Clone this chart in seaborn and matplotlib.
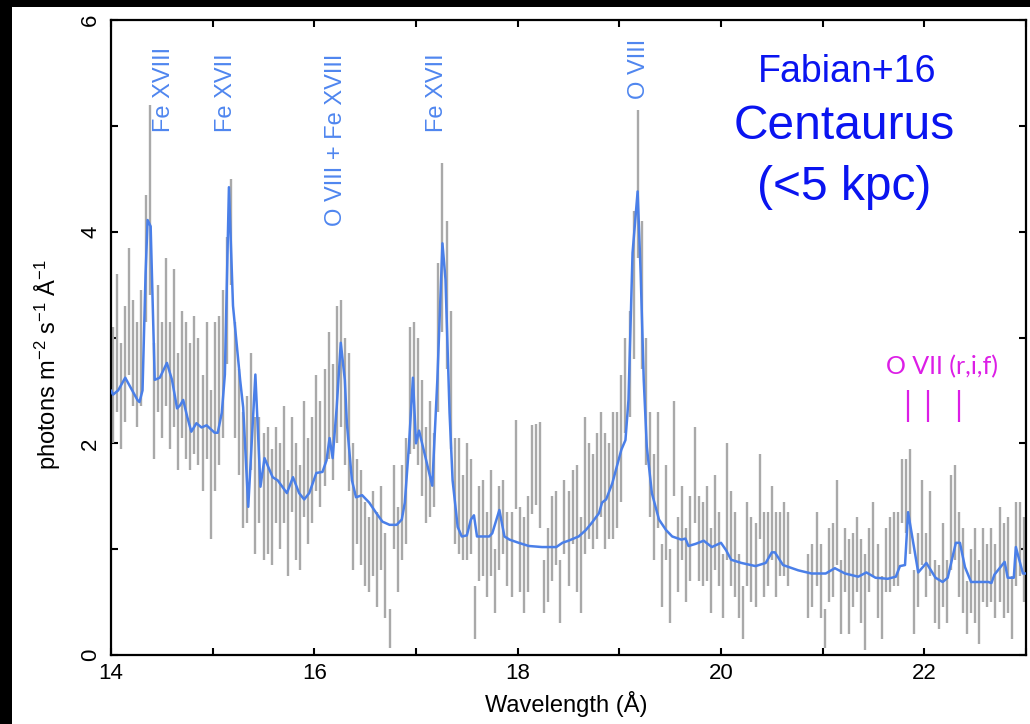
import numpy as np
import pandas as pd
import matplotlib
matplotlib.use("Agg")
import matplotlib.pyplot as plt
from matplotlib.patches import Rectangle
from matplotlib.ticker import FixedLocator, FuncFormatter
import seaborn as sns

# ---- RGS spectrum: binned fluxes with 1-sigma errors -----------------------
wavelength = np.linspace(14.02, 22.98, 225)

flux = [
    2.55, 2.95, 2.45, 2.75, 3.25, 2.85, 2.65, 2.9, 3.75, 4.3,
    2.4, 2.9, 2.6, 3.05, 2.55, 2.9, 2.3, 2.65, 2.5, 2.35,
    2.55, 2.4, 2.1, 2.5, 1.8, 2.35, 2.5, 2.75, 3.35, 4.0,
    2.6, 2.2, 1.75, 1.85, 2.3, 1.6, 1.75, 1.5, 1.55, 1.4,
    1.7, 1.5, 1.8, 1.25, 1.8, 1.45, 1.3, 1.85, 1.55, 1.75,
    2.1, 1.9, 2.15, 2.45, 2.2, 2.65, 2.75, 2.4, 2.2, 1.4,
    1.45, 1.3, 1.05, 0.95, 1.15, 0.9, 1.2, 0.75, 0.25, 1.4,
    1.0, 1.35, 1.55, 2.5, 2.55, 2.4, 2.05, 1.7, 1.85, 1.75,
    3.0, 3.85, 3.4, 2.6, 1.55, 1.5, 1.3, 1.45, 1.4, 0.4,
    1.15, 1.2, 0.95, 1.25, 0.7, 1.2, 1.3, 1.0, 0.95, 1.8,
    1.0, 0.85, 1.05, 1.75, 1.8, 1.7, 0.65, 0.85, 1.1, 1.2,
    0.6, 1.3, 1.1, 1.4, 1.2, 0.85, 1.6, 1.55, 1.45, 1.6,
    1.8, 1.55, 1.55, 1.7, 1.75, 2.05, 2.55, 2.75, 3.5, 4.45,
    3.4, 2.4, 1.8, 1.4, 1.75, 0.75, 1.35, 0.65, 1.95, 0.95,
    1.25, 0.85, 1.1, 1.7, 1.1, 1.05, 1.15, 0.8, 1.25, 1.0,
    0.65, 1.45, 1.1, 0.95, 0.65, 0.4, 1.05, 0.9, 0.85, 1.5,
    0.95, 1.0, 1.25, 0.95, 1.05, 1.1, 1.0, np.nan, np.nan, np.nan,
    np.nan, 0.65, 0.75, 1.0, 0.7, 0.25, 0.85, 0.9, 1.25, 0.55,
    0.9, 0.65, 0.8, 0.95, 0.7, 0.5, 0.9, 1.1, 0.7, 0.45,
    0.9, 0.95, 1.0, 1.0, 1.55, 1.5, 1.45, 0.5, 0.8, 1.25,
    0.85, 1.15, 0.6, 0.55, 0.85, 0.6, 1.25, 1.35, 0.95, 0.8,
    0.45, 0.7, 0.75, 0.5, 0.85, 0.75, 0.85, 0.7, 0.95, 0.8,
    0.85, 0.45, 1.05, 1.1, 0.9,
]

flux_err = [
    0.55, 0.65, 0.5, 0.55, 0.6, 0.5, 0.5, 0.55, 0.6, 0.9,
    0.55, 0.6, 0.55, 0.7, 0.6, 0.75, 0.55, 0.6, 0.65, 0.6,
    0.65, 0.6, 0.55, 0.65, 0.7, 0.8, 0.7, 0.7, 0.6, 0.5,
    0.55, 0.5, 0.55, 0.6, 0.55, 0.65, 0.5, 0.6, 0.6, 0.55,
    0.45, 0.5, 0.55, 0.5, 0.45, 0.55, 0.5, 0.55, 0.5, 0.5,
    0.55, 0.5, 0.55, 0.6, 0.55, 0.65, 0.6, 0.6, 0.65, 0.6,
    0.4, 0.45, 0.4, 0.35, 0.4, 0.45, 0.4, 0.4, 0.18, 0.4,
    0.4, 0.45, 0.5, 0.6, 0.6, 0.6, 0.55, 0.45, 0.55, 0.35,
    0.7, 0.8, 0.7, 0.65, 0.5, 0.55, 0.4, 0.55, 0.45, 0.25,
    0.45, 0.45, 0.4, 0.5, 0.3, 0.4, 0.35, 0.35, 0.4, 0.42,
    0.4, 0.45, 0.45, 0.42, 0.38, 0.5, 0.25, 0.35, 0.4, 0.35,
    0.3, 0.35, 0.45, 0.35, 0.6, 0.45, 0.65, 0.45, 0.45, 0.5,
    0.5, 0.55, 0.45, 0.6, 0.55, 0.6, 0.45, 0.5, 0.7, 0.7,
    0.7, 0.6, 0.5, 0.5, 0.55, 0.3, 0.45, 0.35, 0.45, 0.35,
    0.35, 0.35, 0.4, 0.45, 0.4, 0.4, 0.45, 0.4, 0.45, 0.35,
    0.3, 0.55, 0.45, 0.4, 0.3, 0.25, 0.4, 0.4, 0.4, 0.4,
    0.4, 0.35, 0.35, 0.4, 0.3, 0.35, 0.35, np.nan, np.nan, np.nan,
    np.nan, 0.3, 0.3, 0.35, 0.35, 0.18, 0.35, 0.35, 0.4, 0.35,
    0.3, 0.45, 0.35, 0.35, 0.4, 0.45, 0.3, 0.35, 0.35, 0.3,
    0.3, 0.35, 0.35, 0.35, 0.3, 0.35, 0.5, 0.3, 0.35, 0.4,
    0.3, 0.4, 0.3, 0.3, 0.4, 0.3, 0.45, 0.45, 0.4, 0.4,
    0.25, 0.3, 0.45, 0.4, 0.35, 0.3, 0.35, 0.35, 0.45, 0.45,
    0.45, 0.3, 0.4, 0.35, 0.4,
]

# ---- best-fitting model ----------------------------------------------------
model_wl = [
    14.00, 14.02, 14.07, 14.14, 14.26, 14.28, 14.31, 14.34, 14.36, 14.39,
    14.43, 14.48, 14.55, 14.60, 14.65, 14.68, 14.71, 14.75, 14.79, 14.84,
    14.89, 14.94, 15.02, 15.05, 15.09, 15.12, 15.16, 15.20, 15.27, 15.30,
    15.35, 15.42, 15.47, 15.51, 15.59, 15.64, 15.73, 15.79, 15.85, 15.90,
    15.95, 16.02, 16.08, 16.12, 16.15, 16.18, 16.22, 16.26, 16.30, 16.32,
    16.37, 16.41, 16.47, 16.54, 16.61, 16.67, 16.74, 16.81, 16.86, 16.89,
    16.93, 16.97, 17.00, 17.03, 17.06, 17.16, 17.21, 17.26, 17.29, 17.33,
    17.36, 17.41, 17.45, 17.50, 17.54, 17.57, 17.60, 17.72, 17.75, 17.82,
    17.87, 17.92, 18.01, 18.11, 18.24, 18.38, 18.44, 18.50, 18.60, 18.67,
    18.73, 18.80, 18.83, 18.87, 18.93, 19.00, 19.02, 19.06, 19.09, 19.13,
    19.18, 19.21, 19.24, 19.27, 19.32, 19.39, 19.46, 19.52, 19.61, 19.65,
    19.68, 19.75, 19.83, 19.91, 20.00, 20.05, 20.10, 20.20, 20.34, 20.44,
    20.50, 20.53, 20.61, 20.76, 20.89, 21.03, 21.12, 21.22, 21.35, 21.43,
    21.52, 21.64, 21.72, 21.76, 21.81, 21.84, 21.94, 22.02, 22.11, 22.18,
    22.23, 22.31, 22.35, 22.40, 22.46, 22.63, 22.66, 22.69, 22.79, 22.82,
    22.88, 22.90, 22.97, 23.00,
]
model_flux = [
    2.50, 2.46, 2.50, 2.62, 2.41, 2.39, 2.50, 3.60, 4.11, 4.05,
    2.60, 2.62, 2.76, 2.60, 2.33, 2.36, 2.41, 2.25, 2.11, 2.19,
    2.15, 2.17, 2.10, 2.10, 2.29, 2.65, 4.42, 3.30, 2.60, 2.34,
    1.40, 2.65, 1.59, 1.86, 1.68, 1.65, 1.53, 1.68, 1.53, 1.47,
    1.53, 1.72, 1.73, 1.84, 2.05, 1.86, 2.34, 2.95, 2.60, 2.19,
    1.65, 1.49, 1.51, 1.44, 1.34, 1.26, 1.23, 1.23, 1.28, 1.44,
    1.97, 2.62, 2.00, 2.12, 2.00, 1.60, 2.60, 3.89, 3.55, 2.29,
    1.65, 1.21, 1.12, 1.13, 1.28, 1.32, 1.12, 1.12, 1.15, 1.37,
    1.12, 1.09, 1.06, 1.03, 1.02, 1.02, 1.06, 1.08, 1.12, 1.18,
    1.25, 1.34, 1.44, 1.47, 1.62, 1.87, 1.94, 2.03, 2.41, 3.80,
    4.38, 3.60, 2.60, 1.97, 1.53, 1.28, 1.18, 1.12, 1.09, 1.10,
    1.03, 1.05, 1.08, 1.02, 1.06, 0.99, 0.90, 0.87, 0.84, 0.87,
    0.97, 0.97, 0.85, 0.80, 0.77, 0.77, 0.82, 0.77, 0.74, 0.78,
    0.73, 0.72, 0.74, 0.84, 0.85, 1.35, 0.78, 0.87, 0.73, 0.69,
    0.73, 1.06, 1.06, 0.83, 0.69, 0.69, 0.68, 0.76, 0.88, 0.73,
    0.73, 1.02, 0.77, 0.77,
]

# ---- line identifications --------------------------------------------------
line_names = ["Fe XVIII", "Fe XVII", "O VIII + Fe XVIII", "Fe XVII", "O VIII"]
line_wl = [14.52, 15.13, 16.21, 17.21, 19.19]
line_label_y = [4.94, 4.94, 4.05, 4.94, 5.25]

# O VII resonance, intercombination and forbidden lines
ovii_wl = [21.84, 22.04, 22.34]

# ---- style ------------------------------------------------------------------
sns.set_theme(style="white")
plt.rcParams["font.family"] = ["Liberation Sans", "DejaVu Sans"]
plt.rcParams["mathtext.fontset"] = "custom"
plt.rcParams["mathtext.rm"] = "Liberation Sans"
plt.rcParams["mathtext.it"] = "Liberation Sans:italic"

DATA_GREY = "#a9a9a9"
MODEL_BLUE = "#4a7fe8"
LABEL_BLUE = "#4f86ef"
TITLE_BLUE = "#0a14f0"
MAGENTA = "#dc1ee6"

fig = plt.figure(figsize=(10.30, 7.24), dpi=100, facecolor="black")
fig.add_artist(Rectangle((12 / 1030, 0), 1 - 12 / 1030, 1 - 7 / 724,
                         transform=fig.transFigure, facecolor="white",
                         edgecolor="none", zorder=-10))
ax = fig.add_axes([111 / 1030, 1 - 655 / 724, 915 / 1030, 635 / 724])
ax.set_facecolor("white")

spec = pd.DataFrame({"wavelength": wavelength, "flux": flux, "err": flux_err}).dropna()
ax.vlines(spec["wavelength"], spec["flux"] - spec["err"], spec["flux"] + spec["err"],
          color=DATA_GREY, linewidth=1.7, zorder=2)

model = pd.DataFrame({"wavelength": model_wl, "flux": model_flux})
sns.lineplot(data=model, x="wavelength", y="flux", ax=ax, color=MODEL_BLUE,
             linewidth=1.8, estimator=None, sort=False, zorder=3)

ax.set_xlim(14, 23)
ax.set_ylim(0, 6)

# ticks on all four sides, labelled every second unit
ax.xaxis.set_major_locator(FixedLocator(np.arange(14, 24, 1)))
ax.yaxis.set_major_locator(FixedLocator(np.arange(0, 7, 1)))
even = FuncFormatter(lambda v, pos: f"{int(round(v))}" if int(round(v)) % 2 == 0 else "")
ax.xaxis.set_major_formatter(even)
ax.yaxis.set_major_formatter(even)
ax.tick_params(axis="both", which="major", direction="in", length=5, width=1.5,
               top=True, right=True, bottom=True, left=True, labelsize=16,
               colors="black")
ax.tick_params(axis="x", pad=6)
ax.tick_params(axis="y", pad=7, labelrotation=90)
for lab in ax.get_yticklabels():
    lab.set_va("center")
for sp in ax.spines.values():
    sp.set_linewidth(1.6)
    sp.set_color("black")

ax.set_xlabel("Wavelength (Å)", fontsize=17, color="black")
ax.set_ylabel(r"photons m$^{-2}$ s$^{-1}$ Å$^{-1}$", fontsize=17, color="black")
ax.xaxis.set_label_coords(0.497, -0.057)
ax.yaxis.set_label_coords(-0.053, 0.457)

for name, x, y in zip(line_names, line_wl, line_label_y):
    ax.text(x, y, name, rotation=90, ha="center", va="bottom",
            fontsize=17, color=LABEL_BLUE, zorder=4)

ax.text(21.24, 5.51, "Fabian+16", ha="center", va="center", fontsize=27, color=TITLE_BLUE)
ax.text(21.21, 4.99, "Centaurus", ha="center", va="center", fontsize=34.5, color=TITLE_BLUE)
ax.text(21.21, 4.42, "(<5 kpc)", ha="center", va="center", fontsize=34.5, color=TITLE_BLUE)

ax.text(22.17, 2.72, "O VII (r,i,f)", ha="center", va="center", fontsize=18,
        color=MAGENTA, family=["Lato", "DejaVu Sans"])
ax.vlines(ovii_wl, 2.20, 2.50, color=MAGENTA, linewidth=1.6, zorder=4)

fig.savefig("out.png", dpi=100, facecolor=fig.get_facecolor())
